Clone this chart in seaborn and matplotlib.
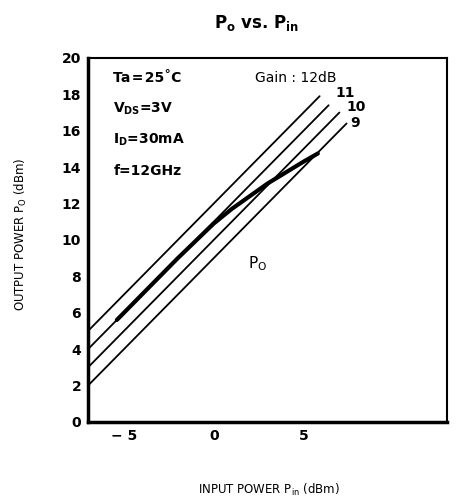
import pandas as pd
import seaborn as sns
import matplotlib.pyplot as plt

# data
gains = [12, 11, 10, 9]
gain_pin_start = [-7, -7, -7, -7]
gain_pin_end = [5.9, 6.4, 7.0, 7.4]
gain_pout_start = [5.0, 4.0, 3.0, 2.0]
gain_pout_end = [17.9, 17.4, 17.0, 16.4]

po_pin = [-5.4, -4, -2, 0, 1, 2, 3, 4, 5, 5.8]
po_pout = [5.6, 7.0, 9.0, 10.9, 11.7, 12.4, 13.1, 13.7, 14.3, 14.75]

x_ticks = [-5, 0, 5]
y_ticks = list(range(0, 21, 2))

sns.set_style("white")
plt.rcParams['font.family'] = ['DejaVu Sans']
plt.rcParams['font.weight'] = 'bold'
plt.rcParams['mathtext.default'] = 'bf'
plt.rcParams['text.color'] = 'black'
plt.rcParams['xtick.color'] = 'black'
plt.rcParams['ytick.color'] = 'black'

rows = []
for g, x0, x1, y0, y1 in zip(gains, gain_pin_start, gain_pin_end, gain_pout_start, gain_pout_end):
    rows.append({"gain": g, "pin": x0, "pout": y0})
    rows.append({"gain": g, "pin": x1, "pout": y1})
df_gain = pd.DataFrame(rows)
df_po = pd.DataFrame({"pin": po_pin, "pout": po_pout})

fig = plt.figure(figsize=(4.59, 5.04), dpi=100)
ax = fig.add_axes([0.192, 0.163, 0.782, 0.722])

sns.lineplot(data=df_gain, x="pin", y="pout", units="gain", estimator=None,
             color="black", linewidth=1.3, sort=False, ax=ax)
sns.lineplot(data=df_po, x="pin", y="pout", color="black", linewidth=3,
             sort=False, ax=ax)

ax.set_xlim(-7, 13)
ax.set_ylim(0, 20)
ax.set_xticks(x_ticks)
ax.set_xticklabels(["\u2212 5", "0", "5"])
ax.set_yticks(y_ticks)
ax.tick_params(direction="in", length=6, width=1.5, labelsize=10, pad=5)
for s in ax.spines.values():
    s.set_color("black")
    s.set_linewidth(1.5)
ax.spines["left"].set_linewidth(2.5)
ax.spines["bottom"].set_linewidth(2.5)
ax.set_xlabel("")
ax.set_ylabel("")

fig.text(0.56, 0.955, r"$P_o$ vs. $P_{in}$", ha="center", va="center",
         fontsize=12, fontweight="bold")
fig.text(0.585, 0.028, r"INPUT POWER $\mathregular{P_{in}}$ (dBm)", ha="center",
         va="center", fontsize=8.5, fontweight="normal")
fig.text(0.045, 0.535, r"OUTPUT POWER $\mathregular{P_O}$ (dBm)", ha="center",
         va="center", rotation=90, fontsize=8.5, fontweight="normal")

info = ["Ta\u200a=\u200a25\u02daC", r"V$_{DS}$=3V", r"I$_D$=30mA", "f=12GHz"]
for i, t in enumerate(info):
    ax.text(0.07, 0.945 - i * 0.085, t, transform=ax.transAxes, fontsize=10,
            fontweight="bold", va="center", family=['DejaVu Sans'])

ax.text(0.465, 0.945, "Gain : 12dB", transform=ax.transAxes, fontsize=10,
        va="center", fontweight="normal")
ax.text(6.8, 18.1, "11", fontsize=10, va="center")
ax.text(7.4, 17.3, "10", fontsize=10, va="center")
ax.text(7.6, 16.4, "9", fontsize=10, va="center")
ax.text(1.9, 8.7, r"$\mathregular{P_O}$", fontsize=11, va="center", fontweight="normal")

fig.savefig("out.png", dpi=100)
